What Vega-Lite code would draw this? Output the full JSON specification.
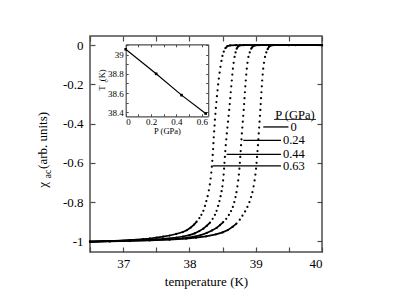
{
"$schema":"https://vega.github.io/schema/vega-lite/v6.json",
"width":232,"height":216,
"autosize":{"type":"none"},
"padding":{"left":90,"top":36,"right":74,"bottom":54},
"background":"white",
"config":{"view":{"stroke":"#4d4d4d","strokeWidth":1.5},"font":"Liberation Serif, Times New Roman, DejaVu Serif, serif",
"text":{"font":"Liberation Serif, Times New Roman, DejaVu Serif, serif"},
"axis":{"grid":false,"labelFont":"Liberation Serif, Times New Roman, DejaVu Serif, serif","titleFont":"Liberation Serif, Times New Roman, DejaVu Serif, serif","titleFontWeight":"normal","labelColor":"black","titleColor":"black","tickColor":"#4d4d4d","domainColor":"#4d4d4d"}},
"datasets":{
"curves":[
{"p":"0.63","t":36.5,"c":-1.002},{"p":"0.63","t":36.7,"c":-1.0},{"p":"0.63","t":36.9,"c":-0.998},{"p":"0.63","t":37.1,"c":-0.994},{"p":"0.63","t":37.3,"c":-0.989},{"p":"0.63","t":37.4,"c":-0.986},{"p":"0.63","t":37.5,"c":-0.982},{"p":"0.63","t":37.6,"c":-0.977},{"p":"0.63","t":37.7,"c":-0.971},{"p":"0.63","t":37.8,"c":-0.963},{"p":"0.63","t":37.9,"c":-0.953},{"p":"0.63","t":37.96,"c":-0.944},{"p":"0.63","t":38.02,"c":-0.93},{"p":"0.63","t":38.07,"c":-0.915},{"p":"0.63","t":38.11,"c":-0.9},{"p":"0.63","t":38.15,"c":-0.882},{"p":"0.63","t":38.18,"c":-0.865},{"p":"0.63","t":38.21,"c":-0.845},{"p":"0.63","t":38.235,"c":-0.82},{"p":"0.63","t":38.255,"c":-0.795},{"p":"0.63","t":38.275,"c":-0.77},{"p":"0.63","t":38.293,"c":-0.74},{"p":"0.63","t":38.308,"c":-0.71},{"p":"0.63","t":38.32,"c":-0.68},{"p":"0.63","t":38.33,"c":-0.65},{"p":"0.63","t":38.338,"c":-0.62},{"p":"0.63","t":38.345,"c":-0.59},{"p":"0.63","t":38.351,"c":-0.56},{"p":"0.63","t":38.357,"c":-0.53},{"p":"0.63","t":38.362,"c":-0.5},{"p":"0.63","t":38.367,"c":-0.47},{"p":"0.63","t":38.373,"c":-0.44},{"p":"0.63","t":38.379,"c":-0.41},{"p":"0.63","t":38.385,"c":-0.38},{"p":"0.63","t":38.392,"c":-0.35},{"p":"0.63","t":38.399,"c":-0.32},{"p":"0.63","t":38.407,"c":-0.29},{"p":"0.63","t":38.415,"c":-0.26},{"p":"0.63","t":38.424,"c":-0.23},{"p":"0.63","t":38.433,"c":-0.2},{"p":"0.63","t":38.443,"c":-0.17},{"p":"0.63","t":38.455,"c":-0.14},{"p":"0.63","t":38.468,"c":-0.11},{"p":"0.63","t":38.483,"c":-0.08},{"p":"0.63","t":38.498,"c":-0.055},{"p":"0.63","t":38.518,"c":-0.033},{"p":"0.63","t":38.543,"c":-0.015},{"p":"0.63","t":38.572,"c":-0.005},{"p":"0.63","t":38.615,"c":-0.001},{"p":"0.63","t":38.7,"c":0},{"p":"0.63","t":39.0,"c":0},{"p":"0.63","t":39.5,"c":0},{"p":"0.63","t":40,"c":0},
{"p":"0.44","t":36.5,"c":-1.002},{"p":"0.44","t":36.8,"c":-0.999},{"p":"0.44","t":37.1,"c":-0.996},{"p":"0.44","t":37.4,"c":-0.992},{"p":"0.44","t":37.6,"c":-0.988},{"p":"0.44","t":37.8,"c":-0.981},{"p":"0.44","t":37.9,"c":-0.976},{"p":"0.44","t":38.0,"c":-0.969},{"p":"0.44","t":38.08,"c":-0.96},{"p":"0.44","t":38.15,"c":-0.948},{"p":"0.44","t":38.21,"c":-0.936},{"p":"0.44","t":38.26,"c":-0.922},{"p":"0.44","t":38.31,"c":-0.905},{"p":"0.44","t":38.35,"c":-0.886},{"p":"0.44","t":38.385,"c":-0.865},{"p":"0.44","t":38.41,"c":-0.845},{"p":"0.44","t":38.433,"c":-0.82},{"p":"0.44","t":38.453,"c":-0.795},{"p":"0.44","t":38.47,"c":-0.77},{"p":"0.44","t":38.485,"c":-0.745},{"p":"0.44","t":38.498,"c":-0.72},{"p":"0.44","t":38.508,"c":-0.69},{"p":"0.44","t":38.516,"c":-0.66},{"p":"0.44","t":38.523,"c":-0.63},{"p":"0.44","t":38.529,"c":-0.6},{"p":"0.44","t":38.535,"c":-0.57},{"p":"0.44","t":38.541,"c":-0.54},{"p":"0.44","t":38.548,"c":-0.51},{"p":"0.44","t":38.556,"c":-0.48},{"p":"0.44","t":38.564,"c":-0.45},{"p":"0.44","t":38.573,"c":-0.42},{"p":"0.44","t":38.582,"c":-0.39},{"p":"0.44","t":38.591,"c":-0.36},{"p":"0.44","t":38.6,"c":-0.33},{"p":"0.44","t":38.608,"c":-0.3},{"p":"0.44","t":38.616,"c":-0.27},{"p":"0.44","t":38.623,"c":-0.24},{"p":"0.44","t":38.631,"c":-0.21},{"p":"0.44","t":38.639,"c":-0.18},{"p":"0.44","t":38.647,"c":-0.15},{"p":"0.44","t":38.656,"c":-0.12},{"p":"0.44","t":38.667,"c":-0.09},{"p":"0.44","t":38.681,"c":-0.06},{"p":"0.44","t":38.696,"c":-0.037},{"p":"0.44","t":38.713,"c":-0.018},{"p":"0.44","t":38.733,"c":-0.006},{"p":"0.44","t":38.76,"c":-0.001},{"p":"0.44","t":38.82,"c":0},{"p":"0.44","t":39.2,"c":0},{"p":"0.44","t":40,"c":0},
{"p":"0.24","t":36.5,"c":-1.002},{"p":"0.24","t":36.8,"c":-1.0},{"p":"0.24","t":37.1,"c":-0.997},{"p":"0.24","t":37.4,"c":-0.994},{"p":"0.24","t":37.7,"c":-0.99},{"p":"0.24","t":37.9,"c":-0.985},{"p":"0.24","t":38.05,"c":-0.978},{"p":"0.24","t":38.16,"c":-0.97},{"p":"0.24","t":38.26,"c":-0.958},{"p":"0.24","t":38.34,"c":-0.945},{"p":"0.24","t":38.41,"c":-0.932},{"p":"0.24","t":38.46,"c":-0.918},{"p":"0.24","t":38.51,"c":-0.902},{"p":"0.24","t":38.555,"c":-0.886},{"p":"0.24","t":38.595,"c":-0.866},{"p":"0.24","t":38.628,"c":-0.846},{"p":"0.24","t":38.655,"c":-0.825},{"p":"0.24","t":38.677,"c":-0.8},{"p":"0.24","t":38.695,"c":-0.775},{"p":"0.24","t":38.71,"c":-0.75},{"p":"0.24","t":38.724,"c":-0.72},{"p":"0.24","t":38.736,"c":-0.69},{"p":"0.24","t":38.746,"c":-0.66},{"p":"0.24","t":38.754,"c":-0.63},{"p":"0.24","t":38.761,"c":-0.6},{"p":"0.24","t":38.767,"c":-0.57},{"p":"0.24","t":38.773,"c":-0.54},{"p":"0.24","t":38.779,"c":-0.51},{"p":"0.24","t":38.785,"c":-0.48},{"p":"0.24","t":38.791,"c":-0.45},{"p":"0.24","t":38.798,"c":-0.42},{"p":"0.24","t":38.805,"c":-0.39},{"p":"0.24","t":38.812,"c":-0.36},{"p":"0.24","t":38.819,"c":-0.33},{"p":"0.24","t":38.825,"c":-0.3},{"p":"0.24","t":38.831,"c":-0.27},{"p":"0.24","t":38.837,"c":-0.24},{"p":"0.24","t":38.843,"c":-0.21},{"p":"0.24","t":38.85,"c":-0.18},{"p":"0.24","t":38.857,"c":-0.15},{"p":"0.24","t":38.865,"c":-0.12},{"p":"0.24","t":38.876,"c":-0.09},{"p":"0.24","t":38.89,"c":-0.06},{"p":"0.24","t":38.91,"c":-0.037},{"p":"0.24","t":38.932,"c":-0.018},{"p":"0.24","t":38.955,"c":-0.006},{"p":"0.24","t":38.985,"c":-0.001},{"p":"0.24","t":39.05,"c":0},{"p":"0.24","t":39.5,"c":0},{"p":"0.24","t":40,"c":0},
{"p":"0","t":36.5,"c":-1.003},{"p":"0","t":36.8,"c":-1.001},{"p":"0","t":37.1,"c":-0.999},{"p":"0","t":37.4,"c":-0.996},{"p":"0","t":37.7,"c":-0.992},{"p":"0","t":37.95,"c":-0.987},{"p":"0","t":38.1,"c":-0.982},{"p":"0","t":38.25,"c":-0.975},{"p":"0","t":38.4,"c":-0.965},{"p":"0","t":38.5,"c":-0.955},{"p":"0","t":38.58,"c":-0.943},{"p":"0","t":38.65,"c":-0.927},{"p":"0","t":38.71,"c":-0.91},{"p":"0","t":38.76,"c":-0.89},{"p":"0","t":38.8,"c":-0.87},{"p":"0","t":38.84,"c":-0.848},{"p":"0","t":38.875,"c":-0.825},{"p":"0","t":38.905,"c":-0.8},{"p":"0","t":38.93,"c":-0.775},{"p":"0","t":38.95,"c":-0.75},{"p":"0","t":38.968,"c":-0.72},{"p":"0","t":38.983,"c":-0.69},{"p":"0","t":38.995,"c":-0.66},{"p":"0","t":39.005,"c":-0.63},{"p":"0","t":39.013,"c":-0.6},{"p":"0","t":39.02,"c":-0.57},{"p":"0","t":39.027,"c":-0.54},{"p":"0","t":39.034,"c":-0.51},{"p":"0","t":39.04,"c":-0.48},{"p":"0","t":39.046,"c":-0.45},{"p":"0","t":39.052,"c":-0.42},{"p":"0","t":39.058,"c":-0.39},{"p":"0","t":39.064,"c":-0.36},{"p":"0","t":39.07,"c":-0.33},{"p":"0","t":39.075,"c":-0.3},{"p":"0","t":39.08,"c":-0.27},{"p":"0","t":39.086,"c":-0.24},{"p":"0","t":39.092,"c":-0.21},{"p":"0","t":39.098,"c":-0.18},{"p":"0","t":39.105,"c":-0.15},{"p":"0","t":39.113,"c":-0.12},{"p":"0","t":39.125,"c":-0.09},{"p":"0","t":39.14,"c":-0.06},{"p":"0","t":39.16,"c":-0.037},{"p":"0","t":39.18,"c":-0.02},{"p":"0","t":39.2,"c":-0.008},{"p":"0","t":39.225,"c":-0.002},{"p":"0","t":39.26,"c":0},{"p":"0","t":39.6,"c":0},{"p":"0","t":40,"c":0}
],
"legend":[{"lab":"0","x1":39.114,"x2":39.494,"y":-0.417},{"lab":"0.24","x1":38.813,"x2":39.381,"y":-0.485},{"lab":"0.44","x1":38.562,"x2":39.381,"y":-0.557},{"lab":"0.63","x1":38.351,"x2":39.381,"y":-0.616}],
"hdr":[{"lab":"P (GPa)","x":39.592,"y":-0.356,"x1":39.276,"x2":39.909,"yu":-0.379}],
"inset":[{"p":0,"tc":39.055},{"p":0.24,"tc":38.8},{"p":0.44,"tc":38.578},{"p":0.63,"tc":38.387}]
},
"layer":[
{"layer":[
 {"data":{"name":"curves"},"mark":{"type":"circle","size":5,"color":"black","opacity":1},
  "encoding":{
   "x":{"field":"t","type":"quantitative","scale":{"domain":[36.5,40],"nice":false,"zero":false},
     "axis":{"orient":"bottom","values":[36.5,37,37.5,38,38.5,39,39.5,40],"labelExpr":"datum.value % 1 == 0 ? format(datum.value, 'd') : ''","tickSize":-5,"tickWidth":1.2,"labelPadding":10,"domain":false,"labelFontSize":13,"labelAngle":0,"title":"temperature (K)","titleFontSize":13,"titleY":33,"titleBaseline":"alphabetic"}},
   "y":{"field":"c","type":"quantitative","scale":{"domain":[-1.055,0.047],"nice":false,"zero":false},
     "axis":{"orient":"left","values":[-1,-0.8,-0.6,-0.4,-0.2,0],"labelExpr":"datum.value < 0 ? '-' + format(-datum.value, '') : format(datum.value, '')","tickSize":-5,"tickWidth":1.2,"labelPadding":12,"domain":false,"labelFontSize":13,"title":"χ\u00a0\u00a0\u00a0\u00a0(arb. units)","titleFontSize":13,"titleAngle":270,"titleX":-48,"titleY":113.3,"titleAlign":"center","titleBaseline":"middle"}}}},
 {"data":{"name":"curves"},"transform":[{"filter":"datum.c <= -0.9"}],"mark":{"type":"line","color":"black","strokeWidth":1.7},
  "encoding":{
   "x":{"field":"t","type":"quantitative","axis":{"orient":"top","values":[36.5,37,37.5,38,38.5,39,39.5,40],"labels":false,"tickSize":-5,"tickWidth":1.2,"domain":false,"title":null}},
   "y":{"field":"c","type":"quantitative","axis":{"orient":"right","values":[-1,-0.8,-0.6,-0.4,-0.2,0],"labels":false,"tickSize":-5,"tickWidth":1.2,"domain":false,"title":"ac","titleFontSize":9.5,"titleAngle":270,"titleX":-275,"titleY":137.5,"titleAlign":"center","titleBaseline":"middle"}},
   "detail":{"field":"p"}}},
 {"data":{"name":"curves"},"transform":[{"filter":"datum.c >= -0.02"}],"mark":{"type":"line","color":"black","strokeWidth":1.8},
  "encoding":{"x":{"field":"t","type":"quantitative","axis":null},"y":{"field":"c","type":"quantitative","axis":null},"detail":{"field":"p"}}},
 {"data":{"name":"legend"},"mark":{"type":"rule","color":"black","strokeWidth":1.3},
  "encoding":{"x":{"field":"x1","type":"quantitative","axis":null},"x2":{"field":"x2"},"y":{"field":"y","type":"quantitative","axis":null}}},
 {"data":{"name":"legend"},"mark":{"type":"text","align":"left","baseline":"middle","dx":2,"fontSize":12.5,"color":"black"},
  "encoding":{"x":{"field":"x2","type":"quantitative","axis":null},"y":{"field":"y","type":"quantitative","axis":null},"text":{"field":"lab"}}},
 {"data":{"name":"hdr"},"mark":{"type":"text","align":"center","baseline":"middle","fontSize":12.5,"color":"black"},
  "encoding":{"x":{"field":"x","type":"quantitative","axis":null},"y":{"field":"y","type":"quantitative","axis":null},"text":{"field":"lab"}}},
 {"data":{"name":"hdr"},"mark":{"type":"rule","color":"black","strokeWidth":0.8},
  "encoding":{"x":{"field":"x1","type":"quantitative","axis":null},"x2":{"field":"x2"},"y":{"field":"yu","type":"quantitative","axis":null}}}
 ],
 "resolve":{"axis":{"x":"independent","y":"independent"}}
},
{"layer":[
 {"data":{"name":"inset"},"mark":{"type":"line","color":"black","strokeWidth":1.2},
  "encoding":{
   "x":{"field":"p","type":"quantitative","scale":{"domain":[0,0.65],"range":[35.7,118.2],"nice":false,"zero":false},
     "axis":{"orient":"bottom","offset":-135.7,"values":[0,0.1,0.2,0.3,0.4,0.5,0.6],"labelExpr":"round(datum.value * 10) % 2 == 0 ? format(datum.value, '') : ''","tickSize":-2.5,"tickWidth":1,"labelPadding":3.5,"domain":true,"domainWidth":1.2,"labelFontSize":9,"labelAngle":0,"title":"P (GPa)","titleFontSize":8.5,"titleY":14,"titleBaseline":"middle"}},
   "y":{"field":"tc","type":"quantitative","scale":{"domain":[38.358,39.107],"range":[80.3,8.3],"nice":false,"zero":false},
     "axis":{"orient":"left","offset":-35.7,"values":[38.4,38.5,38.6,38.7,38.8,38.9,39.0,39.1],"labelExpr":"round(datum.value * 10) % 2 == 0 ? format(datum.value, '') : ''","tickSize":-2.5,"tickWidth":1,"labelPadding":5,"domain":true,"domainWidth":1.2,"labelFontSize":9,"title":"T\u00a0\u00a0(K)","titleFontSize":8.5,"titleAngle":270,"titleX":-24.2,"titleY":43.5,"titleAlign":"center","titleBaseline":"middle"}}}},
 {"data":{"name":"inset"},"mark":{"type":"square","size":7,"color":"black","opacity":1},
  "encoding":{
   "x":{"field":"p","type":"quantitative","axis":{"orient":"top","offset":-8.3,"values":[0,0.1,0.2,0.3,0.4,0.5,0.6],"labels":false,"tickSize":-2.5,"tickWidth":1,"domain":true,"domainWidth":1.2,"title":null}},
   "y":{"field":"tc","type":"quantitative","axis":{"orient":"right","offset":-113.8,"values":[38.4,38.5,38.6,38.7,38.8,38.9,39.0,39.1],"labels":false,"tickSize":-2.5,"tickWidth":1,"domain":true,"domainWidth":1.2,"title":"c","titleFontSize":6.5,"titleAngle":270,"titleX":-102.8,"titleY":44.5,"titleAlign":"center","titleBaseline":"middle"}}}}
 ],
 "resolve":{"axis":{"x":"independent","y":"independent"}}
}
],
"resolve":{"scale":{"x":"independent","y":"independent"},"axis":{"x":"independent","y":"independent"}}
}
